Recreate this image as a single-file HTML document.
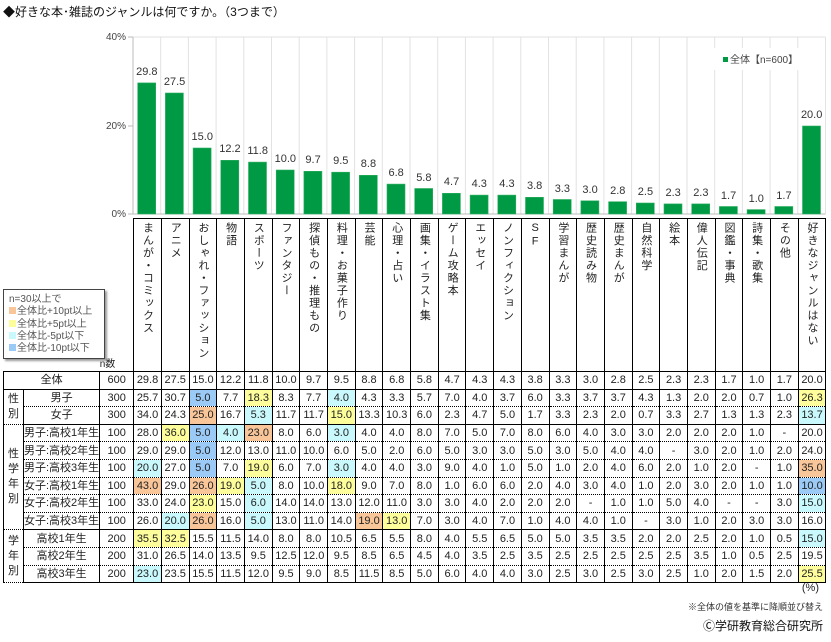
<!DOCTYPE html>
<html><head><meta charset="utf-8"><style>
body{margin:0;width:831px;height:642px;background:#fff;position:relative;overflow:hidden;font-family:"Liberation Sans","Noto Sans CJK JP",sans-serif;color:#222}
.abs{position:absolute}
table{border-collapse:collapse;table-layout:fixed;position:absolute;left:3px;top:218px;font-size:11px}
td{padding:0;text-align:center;height:16.6px;line-height:16px;border-left:1px solid #000;border-right:1px solid #000;white-space:nowrap;overflow:hidden}
tr.h td{height:152px;vertical-align:top;border-top:1px solid #000}
tr.h td.e{border:none}
tr.s td{border-bottom:1px solid #000}
tr.d td{border-bottom:1px dotted #000}
td.g{border-bottom:1px solid #000;line-height:15px;font-size:11px}
.v{writing-mode:vertical-rl;text-orientation:upright;font-size:11px;line-height:14px;letter-spacing:1.5px;margin:3px auto 0;color:#222}
.o{background:#f9c69a}.y{background:#fdfd9c}.c{background:#c9f9fc}.b{background:#9ccaf7}
.lg{left:3px;top:289px;width:102px;height:70px;border:1px solid #444;box-shadow:2px 2px 2px #999;font-size:10px;line-height:12.3px;color:#555;padding:4px 0 0 5px;box-sizing:border-box;background:#fff}
.sq{display:inline-block;width:7px;height:7px;margin-right:1px}
</style></head><body>
<div class="abs" style="left:3px;top:3px;font-size:12px;color:#111">◆好きな本･雑誌のジャンルは何ですか。（3つまで）</div>
<svg class="abs" style="left:0;top:0" width="831" height="220" font-family="Liberation Sans" font-size="11" fill="#333">
<g stroke="#e2e2e2" stroke-width="1">
<line x1="133" y1="37" x2="825.5" y2="37"/>
<line x1="160.7" y1="37" x2="160.7" y2="214"/><line x1="188.4" y1="37" x2="188.4" y2="214"/><line x1="216.1" y1="37" x2="216.1" y2="214"/><line x1="243.8" y1="37" x2="243.8" y2="214"/><line x1="271.5" y1="37" x2="271.5" y2="214"/><line x1="299.2" y1="37" x2="299.2" y2="214"/><line x1="326.9" y1="37" x2="326.9" y2="214"/><line x1="354.6" y1="37" x2="354.6" y2="214"/><line x1="382.3" y1="37" x2="382.3" y2="214"/><line x1="410" y1="37" x2="410" y2="214"/><line x1="437.7" y1="37" x2="437.7" y2="214"/><line x1="465.4" y1="37" x2="465.4" y2="214"/><line x1="493.1" y1="37" x2="493.1" y2="214"/><line x1="520.8" y1="37" x2="520.8" y2="214"/><line x1="548.5" y1="37" x2="548.5" y2="214"/><line x1="576.2" y1="37" x2="576.2" y2="214"/><line x1="603.9" y1="37" x2="603.9" y2="214"/><line x1="631.6" y1="37" x2="631.6" y2="214"/><line x1="659.3" y1="37" x2="659.3" y2="214"/><line x1="687" y1="37" x2="687" y2="214"/><line x1="714.7" y1="37" x2="714.7" y2="214"/><line x1="742.4" y1="37" x2="742.4" y2="214"/><line x1="770.1" y1="37" x2="770.1" y2="214"/><line x1="797.8" y1="37" x2="797.8" y2="214"/><line x1="825.5" y1="37" x2="825.5" y2="214"/>
</g>
<g stroke="#bbb"><line x1="133" y1="37" x2="133" y2="214"/><line x1="133" y1="214" x2="825.5" y2="214"/><line x1="128" y1="37" x2="133" y2="37"/><line x1="128" y1="126" x2="133" y2="126"/><line x1="128" y1="214" x2="133" y2="214"/></g>
<g font-size="10" text-anchor="end" fill="#444"><text x="126" y="40">40%</text><text x="126" y="129">20%</text><text x="126" y="217">0%</text></g>
<rect x="712" y="48" width="100" height="22" fill="#fff"/>
<rect x="723" y="57" width="5" height="5" fill="#009944"/>
<text x="730" y="63" font-size="10" fill="#444" font-family="Liberation Sans, Noto Sans CJK JP">全体【n=600】</text>
<g fill="#009944" stroke="#2fb060" stroke-width="0.6">
<rect x="137.7" y="82.9" width="18" height="131.1"/><rect x="165.4" y="93" width="18" height="121"/><rect x="193.1" y="148" width="18" height="66"/><rect x="220.8" y="160.3" width="18" height="53.7"/><rect x="248.5" y="162.1" width="18" height="51.9"/><rect x="276.2" y="170" width="18" height="44"/><rect x="303.9" y="171.3" width="18" height="42.7"/><rect x="331.6" y="172.2" width="18" height="41.8"/><rect x="359.3" y="175.3" width="18" height="38.7"/><rect x="387" y="184.1" width="18" height="29.9"/><rect x="414.7" y="188.5" width="18" height="25.5"/><rect x="442.4" y="193.3" width="18" height="20.7"/><rect x="470.1" y="195.1" width="18" height="18.9"/><rect x="497.8" y="195.1" width="18" height="18.9"/><rect x="525.5" y="197.3" width="18" height="16.7"/><rect x="553.2" y="199.5" width="18" height="14.5"/><rect x="580.9" y="200.8" width="18" height="13.2"/><rect x="608.6" y="201.7" width="18" height="12.3"/><rect x="636.3" y="203" width="18" height="11"/><rect x="664" y="203.9" width="18" height="10.1"/><rect x="691.7" y="203.9" width="18" height="10.1"/><rect x="719.4" y="206.5" width="18" height="7.5"/><rect x="747.1" y="209.6" width="18" height="4.4"/><rect x="774.8" y="206.5" width="18" height="7.5"/><rect x="802.5" y="126" width="18" height="88"/>
</g>
<g text-anchor="middle">
<text x="146.85" y="75">29.8</text><text x="174.55" y="85">27.5</text><text x="202.25" y="140">15.0</text><text x="229.95" y="152">12.2</text><text x="257.65" y="154">11.8</text><text x="285.35" y="162">10.0</text><text x="313.05" y="163">9.7</text><text x="340.75" y="164">9.5</text><text x="368.45" y="167">8.8</text><text x="396.15" y="176">6.8</text><text x="423.85" y="181">5.8</text><text x="451.55" y="185">4.7</text><text x="479.25" y="187">4.3</text><text x="506.95" y="187">4.3</text><text x="534.65" y="189">3.8</text><text x="562.35" y="192">3.3</text><text x="590.05" y="193">3.0</text><text x="617.75" y="194">2.8</text><text x="645.45" y="195">2.5</text><text x="673.15" y="196">2.3</text><text x="700.85" y="196">2.3</text><text x="728.55" y="199">1.7</text><text x="756.25" y="202">1.0</text><text x="783.95" y="199">1.7</text><text x="811.65" y="118">20.0</text>
</g>
</svg>
<table>
<colgroup><col style="width:20px"><col style="width:76px"><col style="width:34px"><col span="25" style="width:27.7px"></colgroup>
<tr class="h"><td class="e"></td><td class="e"></td><td class="e" style="vertical-align:bottom;text-align:left;font-size:10px;line-height:12px">n数</td>
<td><div class="v">まんが・コミックス</div></td><td><div class="v">アニメ</div></td><td><div class="v">おしゃれ・ファッション</div></td><td><div class="v">物語</div></td><td><div class="v">スポーツ</div></td><td><div class="v">ファンタジー</div></td><td><div class="v">探偵もの・推理もの</div></td><td><div class="v">料理・お菓子作り</div></td><td><div class="v">芸能</div></td><td><div class="v">心理・占い</div></td><td><div class="v">画集・イラスト集</div></td><td><div class="v">ゲーム攻略本</div></td><td><div class="v">エッセイ</div></td><td><div class="v">ノンフィクション</div></td><td><div class="v">SF</div></td><td><div class="v">学習まんが</div></td><td><div class="v">歴史読み物</div></td><td><div class="v">歴史まんが</div></td><td><div class="v">自然科学</div></td><td><div class="v">絵本</div></td><td><div class="v">偉人伝記</div></td><td><div class="v">図鑑・事典</div></td><td><div class="v">詩集・歌集</div></td><td><div class="v">その他</div></td><td><div class="v">好きなジャンルはない</div></td></tr>
<tr class="s" style="border-top:1px solid #000"><td colspan="2">全体</td><td>600</td><td>29.8</td><td>27.5</td><td>15.0</td><td>12.2</td><td>11.8</td><td>10.0</td><td>9.7</td><td>9.5</td><td>8.8</td><td>6.8</td><td>5.8</td><td>4.7</td><td>4.3</td><td>4.3</td><td>3.8</td><td>3.3</td><td>3.0</td><td>2.8</td><td>2.5</td><td>2.3</td><td>2.3</td><td>1.7</td><td>1.0</td><td>1.7</td><td>20.0</td></tr>
<tr class="d"><td class="g" rowspan="2">性<br>別</td><td>男子</td><td>300</td><td>25.7</td><td>30.7</td><td class="b">5.0</td><td>7.7</td><td class="y">18.3</td><td>8.3</td><td>7.7</td><td class="c">4.0</td><td>4.3</td><td>3.3</td><td>5.7</td><td>7.0</td><td>4.0</td><td>3.7</td><td>6.0</td><td>3.3</td><td>3.7</td><td>3.7</td><td>4.3</td><td>1.3</td><td>2.0</td><td>2.0</td><td>0.7</td><td>1.0</td><td class="y">26.3</td></tr>
<tr class="s"><td>女子</td><td>300</td><td>34.0</td><td>24.3</td><td class="o">25.0</td><td>16.7</td><td class="c">5.3</td><td>11.7</td><td>11.7</td><td class="y">15.0</td><td>13.3</td><td>10.3</td><td>6.0</td><td>2.3</td><td>4.7</td><td>5.0</td><td>1.7</td><td>3.3</td><td>2.3</td><td>2.0</td><td>0.7</td><td>3.3</td><td>2.7</td><td>1.3</td><td>1.3</td><td>2.3</td><td class="c">13.7</td></tr>
<tr class="d"><td class="g" rowspan="6">性<br>学<br>年<br>別</td><td>男子:高校1年生</td><td>100</td><td>28.0</td><td class="y">36.0</td><td class="b">5.0</td><td class="c">4.0</td><td class="o">23.0</td><td>8.0</td><td>6.0</td><td class="c">3.0</td><td>4.0</td><td>4.0</td><td>8.0</td><td>7.0</td><td>5.0</td><td>7.0</td><td>8.0</td><td>6.0</td><td>4.0</td><td>3.0</td><td>3.0</td><td>2.0</td><td>2.0</td><td>2.0</td><td>1.0</td><td>-</td><td>20.0</td></tr>
<tr class="d"><td>男子:高校2年生</td><td>100</td><td>29.0</td><td>29.0</td><td class="b">5.0</td><td>12.0</td><td>13.0</td><td>11.0</td><td>10.0</td><td>6.0</td><td>5.0</td><td>2.0</td><td>6.0</td><td>5.0</td><td>3.0</td><td>3.0</td><td>5.0</td><td>3.0</td><td>5.0</td><td>4.0</td><td>4.0</td><td>-</td><td>3.0</td><td>2.0</td><td>1.0</td><td>2.0</td><td>24.0</td></tr>
<tr class="d"><td>男子:高校3年生</td><td>100</td><td class="c">20.0</td><td>27.0</td><td class="b">5.0</td><td>7.0</td><td class="y">19.0</td><td>6.0</td><td>7.0</td><td class="c">3.0</td><td>4.0</td><td>4.0</td><td>3.0</td><td>9.0</td><td>4.0</td><td>1.0</td><td>5.0</td><td>1.0</td><td>2.0</td><td>4.0</td><td>6.0</td><td>2.0</td><td>1.0</td><td>2.0</td><td>-</td><td>1.0</td><td class="o">35.0</td></tr>
<tr class="d"><td>女子:高校1年生</td><td>100</td><td class="o">43.0</td><td>29.0</td><td class="o">26.0</td><td class="y">19.0</td><td class="c">5.0</td><td>8.0</td><td>10.0</td><td class="y">18.0</td><td>9.0</td><td>7.0</td><td>8.0</td><td>1.0</td><td>6.0</td><td>6.0</td><td>2.0</td><td>4.0</td><td>3.0</td><td>4.0</td><td>1.0</td><td>2.0</td><td>3.0</td><td>2.0</td><td>1.0</td><td>1.0</td><td class="b">10.0</td></tr>
<tr class="d"><td>女子:高校2年生</td><td>100</td><td>33.0</td><td>24.0</td><td class="y">23.0</td><td>15.0</td><td class="c">6.0</td><td>14.0</td><td>14.0</td><td>13.0</td><td>12.0</td><td>11.0</td><td>3.0</td><td>3.0</td><td>4.0</td><td>2.0</td><td>2.0</td><td>2.0</td><td>-</td><td>1.0</td><td>1.0</td><td>5.0</td><td>4.0</td><td>-</td><td>-</td><td>3.0</td><td class="c">15.0</td></tr>
<tr class="s"><td>女子:高校3年生</td><td>100</td><td>26.0</td><td class="c">20.0</td><td class="o">26.0</td><td>16.0</td><td class="c">5.0</td><td>13.0</td><td>11.0</td><td>14.0</td><td class="o">19.0</td><td class="y">13.0</td><td>7.0</td><td>3.0</td><td>4.0</td><td>7.0</td><td>1.0</td><td>4.0</td><td>4.0</td><td>1.0</td><td>-</td><td>3.0</td><td>1.0</td><td>2.0</td><td>3.0</td><td>3.0</td><td>16.0</td></tr>
<tr class="d"><td class="g" rowspan="3">学<br>年<br>別</td><td>高校1年生</td><td>200</td><td class="y">35.5</td><td class="y">32.5</td><td>15.5</td><td>11.5</td><td>14.0</td><td>8.0</td><td>8.0</td><td>10.5</td><td>6.5</td><td>5.5</td><td>8.0</td><td>4.0</td><td>5.5</td><td>6.5</td><td>5.0</td><td>5.0</td><td>3.5</td><td>3.5</td><td>2.0</td><td>2.0</td><td>2.5</td><td>2.0</td><td>1.0</td><td>0.5</td><td class="c">15.0</td></tr>
<tr class="d"><td>高校2年生</td><td>200</td><td>31.0</td><td>26.5</td><td>14.0</td><td>13.5</td><td>9.5</td><td>12.5</td><td>12.0</td><td>9.5</td><td>8.5</td><td>6.5</td><td>4.5</td><td>4.0</td><td>3.5</td><td>2.5</td><td>3.5</td><td>2.5</td><td>2.5</td><td>2.5</td><td>2.5</td><td>2.5</td><td>3.5</td><td>1.0</td><td>0.5</td><td>2.5</td><td>19.5</td></tr>
<tr class="s"><td>高校3年生</td><td>200</td><td class="c">23.0</td><td>23.5</td><td>15.5</td><td>11.5</td><td>12.0</td><td>9.5</td><td>9.0</td><td>8.5</td><td>11.5</td><td>8.5</td><td>5.0</td><td>6.0</td><td>4.0</td><td>4.0</td><td>3.0</td><td>2.5</td><td>3.0</td><td>2.5</td><td>3.0</td><td>2.5</td><td>1.0</td><td>2.0</td><td>1.5</td><td>2.0</td><td class="y">25.5</td></tr>
</table>
<div class="abs lg">n=30以上で<br><span class="sq" style="background:#f9c69a"></span>全体比+10pt以上<br><span class="sq" style="background:#fdfd9c"></span>全体比+5pt以上<br><span class="sq" style="background:#c9f9fc"></span>全体比-5pt以下<br><span class="sq" style="background:#9ccaf7"></span>全体比-10pt以下</div>
<div class="abs" style="right:12px;top:582px;font-size:11px">(%)</div>
<div class="abs" style="right:8px;top:600px;font-size:9px;color:#333">※全体の値を基準に降順並び替え</div>
<div class="abs" style="right:8px;top:617px;font-size:12px;color:#111">Ⓒ学研教育総合研究所</div>
</body></html>
